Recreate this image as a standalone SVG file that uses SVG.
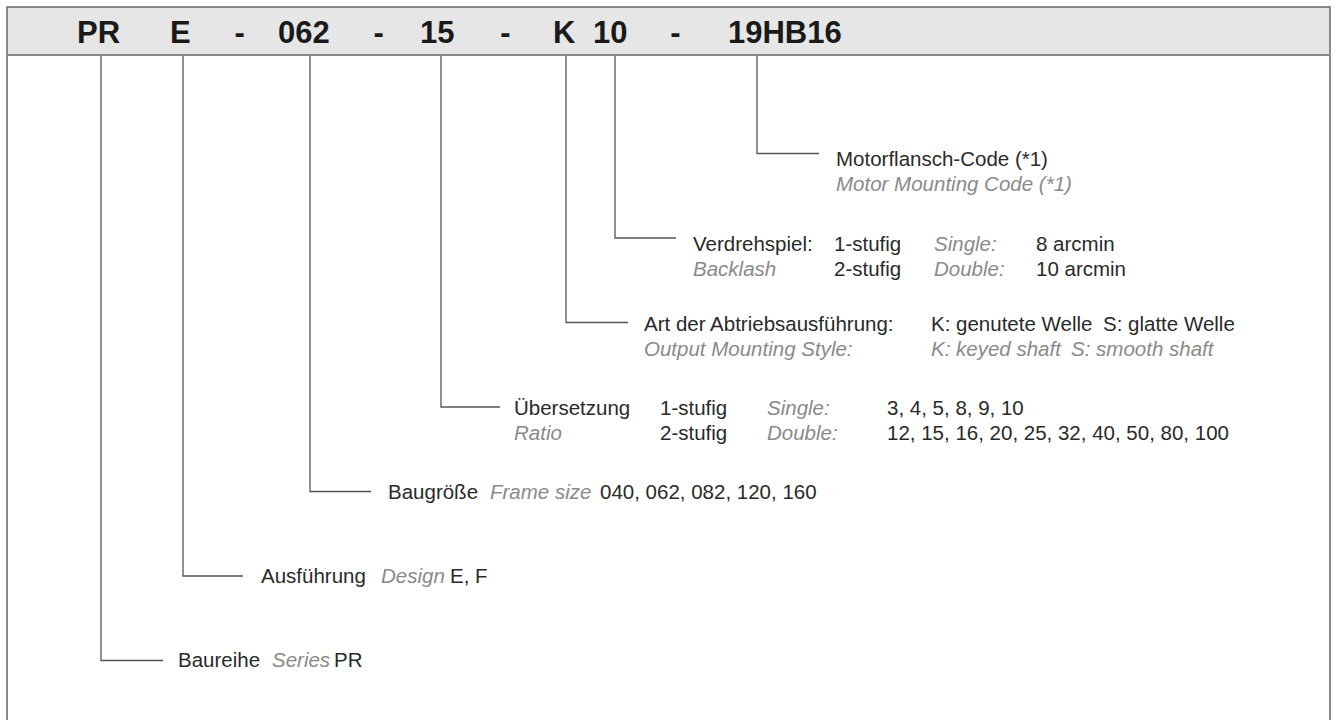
<svg xmlns="http://www.w3.org/2000/svg" width="1336" height="720" viewBox="0 0 1336 720">
<style>
.hd{font-family:"Liberation Sans",Arial,sans-serif;font-weight:bold;font-size:31px;fill:#1a1a1a}
.t{font-family:"Liberation Sans",Arial,sans-serif;font-size:20.5px;fill:#2a2a2a}
.i{font-family:"Liberation Sans",Arial,sans-serif;font-size:20.5px;font-style:italic;fill:#8a8a8a}
.c{fill:none;stroke:#555;stroke-width:1.3}
</style>
<rect x="0" y="0" width="1336" height="720" fill="#fff"/>
<g id="frame">
<rect x="7" y="7" width="1323" height="48" fill="#e6e6e6"/>
<path d="M7,740 V7 H1330 V740" fill="none" stroke="#666" stroke-width="1.5"/>
<line x1="7" y1="55" x2="1330" y2="55" stroke="#888" stroke-width="2"/>
</g>
<g id="header">
<text class="hd" y="43"><tspan x="77">PR</tspan><tspan x="170">E</tspan><tspan x="234.6">-</tspan><tspan x="278">062</tspan><tspan x="373.6">-</tspan><tspan x="420">15</tspan><tspan x="500.3">-</tspan><tspan x="553">K</tspan><tspan x="593">10</tspan><tspan x="670.3">-</tspan><tspan x="728">19HB16</tspan></text>
</g>
<g id="connectors">
<path class="c" d="M757,56 V153.5 H819"/>
<path class="c" d="M615,56 V238 H676"/>
<path class="c" d="M566,56 V322.5 H628"/>
<path class="c" d="M441,56 V407 H500"/>
<path class="c" d="M310,56 V491.5 H371"/>
<path class="c" d="M183,56 V576 H243"/>
<path class="c" d="M101,56 V660.5 H163"/>
</g>
<g id="motor">
<text class="t" x="836" y="166">Motorflansch-Code (*1)</text>
<text class="i" x="836" y="191">Motor Mounting Code (*1)</text>
</g>
<g id="backlash">
<text class="t" y="251"><tspan x="693">Verdrehspiel:</tspan><tspan x="834">1-stufig</tspan></text>
<text class="i" x="934" y="251">Single:</text>
<text class="t" x="1036" y="251">8 arcmin</text>
<text class="i" x="693" y="276">Backlash</text>
<text class="t" x="834" y="276">2-stufig</text>
<text class="i" x="934" y="276">Double:</text>
<text class="t" x="1036" y="276">10 arcmin</text>
</g>
<g id="output">
<text class="t" y="331"><tspan x="644">Art der Abtriebsausführung:</tspan><tspan x="931">K: genutete Welle</tspan><tspan x="1103">S: glatte Welle</tspan></text>
<text class="i" y="356"><tspan x="644">Output Mounting Style:</tspan><tspan x="931">K: keyed shaft</tspan><tspan x="1071">S: smooth shaft</tspan></text>
</g>
<g id="ratio">
<text class="t" y="415"><tspan x="514">Übersetzung</tspan><tspan x="660">1-stufig</tspan></text>
<text class="i" x="767" y="415">Single:</text>
<text class="t" x="887" y="415">3, 4, 5, 8, 9, 10</text>
<text class="i" x="514" y="440">Ratio</text>
<text class="t" x="660" y="440">2-stufig</text>
<text class="i" x="767" y="440">Double:</text>
<text class="t" x="887" y="440">12, 15, 16, 20, 25, 32, 40, 50, 80, 100</text>
</g>
<g id="size">
<text class="t" x="388" y="498.5">Baugröße</text>
<text class="i" x="490" y="498.5">Frame size</text>
<text class="t" x="600" y="498.5">040, 062, 082, 120, 160</text>
</g>
<g id="design">
<text class="t" x="261" y="583">Ausführung</text>
<text class="i" x="381" y="583">Design</text>
<text class="t" x="450" y="583">E, F</text>
</g>
<g id="series">
<text class="t" x="178" y="667">Baureihe</text>
<text class="i" x="272" y="667">Series</text>
<text class="t" x="334" y="667">PR</text>
</g>
</svg>
